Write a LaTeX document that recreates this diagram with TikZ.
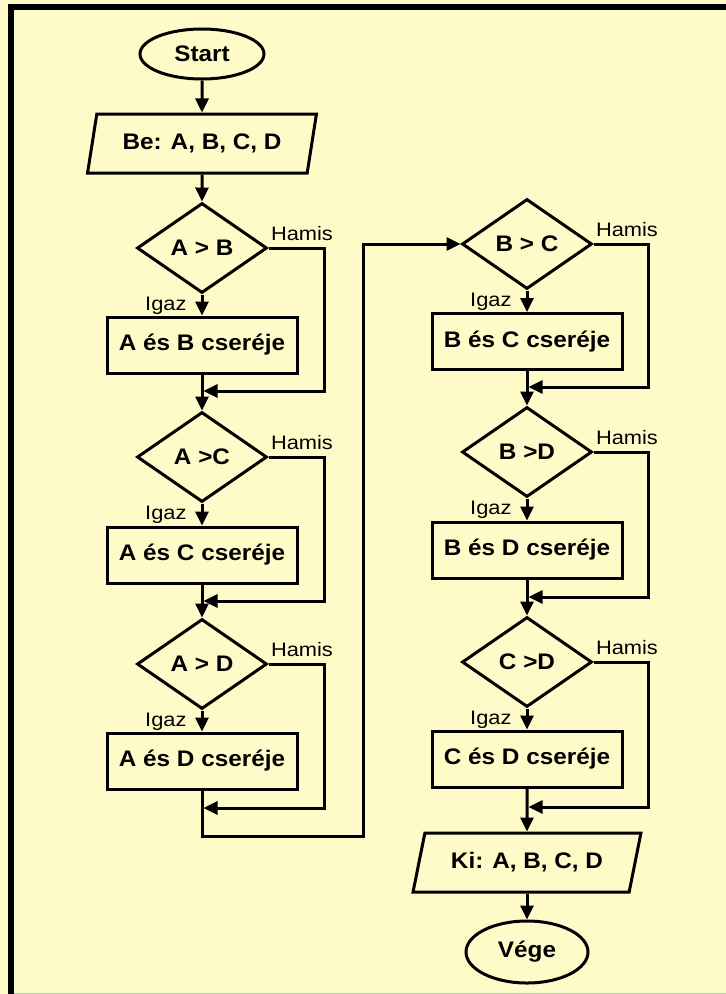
\documentclass[tikz,border=0pt]{standalone}
\usepackage{fontspec}
\setmainfont{Liberation Sans}
\newfontfamily\boldf[FakeStretch=1.08]{Liberation Sans}
\newfontfamily\lblf[FakeStretch=1.12]{Liberation Sans}
\usetikzlibrary{shapes.geometric,arrows.meta}
\definecolor{bg}{RGB}{255,251,200}
\begin{document}
\begin{tikzpicture}[x=1pt,y=-1pt,line width=3pt,
  >={Triangle[length=14pt,width=13pt]},
  bold/.style={font=\boldf\bfseries\fontsize{22.5}{24}\selectfont},
  term/.style={ellipse,draw,minimum width=124pt,minimum height=50pt,inner sep=0pt,bold},
  io/.style={trapezium,trapezium stretches,draw,minimum height=59pt,inner sep=0pt,bold},
  proc/.style={rectangle,draw,minimum width=190pt,minimum height=56pt,inner sep=0pt,bold},
  dec/.style={diamond,draw,minimum width=130pt,minimum height=90pt,inner sep=0pt,shape aspect=1.45,bold},
  lbl/.style={font=\lblf\fontsize{19.5}{21}\selectfont,inner sep=0pt},
  flow/.style={->}]
\useasboundingbox (0,0) rectangle (726,994);
\fill[bg] (0,0) rectangle (726,994);
\fill[black] (8,4) rectangle (14,994);
\fill[black] (8,4) rectangle (726,10);
\draw[black!25,line width=1pt] (14,993.5) -- (726,993.5);

% left column
\node[term] (start) at (202,54) {Start};
\node[io,minimum width=229pt,trapezium left angle=70,trapezium right angle=110] (be) at (202,143.5) {Be: A, B, C, D};
\node[dec] (d1) at (202,248) {A > B};
\node[proc] (b1) at (202,345) {A és B cseréje};
\node[dec] (d2) at (202,457) {A >C};
\node[proc] (b2) at (202,555) {A és C cseréje};
\node[dec] (d3) at (202,664) {A > D};
\node[proc] (b3) at (202,761) {A és D cseréje};

% right column
\node[dec] (d4) at (527,244) {B > C};
\node[proc] (b4) at (527,341.5) {B és C cseréje};
\node[dec] (d5) at (527,452) {B >D};
\node[proc] (b5) at (527,550) {B és D cseréje};
\node[dec] (d6) at (527,662) {C >D};
\node[proc] (b6) at (527,759) {C és D cseréje};
\node[io,minimum width=228pt,trapezium left angle=66,trapezium right angle=114] (ki) at (527,862.5) {Ki: A, B, C, D};
\node[term,minimum width=122pt,minimum height=62pt] (vege) at (527,952) {Vége};

% labels
\foreach \d in {d1,d2,d3,d4,d5,d6}{
  \node[lbl,anchor=base west] (h\d) at ([shift={(1,-8)}]\d.east) {Hamis};
  \node[lbl,anchor=base east] (i\d) at ([shift={(-14,16)}]\d.south) {Igaz};
}

% return coordinates
\coordinate (r1) at (324,391);
\coordinate (r2) at (324,601);
\coordinate (r3) at (324,808);
\coordinate (r4) at (648,387);
\coordinate (r5) at (648,597);
\coordinate (r6) at (648,807);
\coordinate (c1) at (363,836);

% main flow
\draw[flow] (start) -- (be);
\draw[flow] (be) -- (d1);
\draw[flow] (d1) -- (b1);
\draw[flow] (b1) -- (d2);
\draw[flow] (d2) -- (b2);
\draw[flow] (b2) -- (d3);
\draw[flow] (d3) -- (b3);
\draw[flow] (b3.south) |- (c1) |- (d4.west);
\draw[flow] (d4) -- (b4);
\draw[flow] (b4) -- (d5);
\draw[flow] (d5) -- (b5);
\draw[flow] (b5) -- (d6);
\draw[flow] (d6) -- (b6);
\draw[flow] (b6) -- (ki);
\draw[flow] (ki) -- (vege);

% false branches
\draw[flow,shorten >=1.5pt] (d1.east) -| (r1) -- (r1 -| b1.south);
\draw[flow,shorten >=1.5pt] (d2.east) -| (r2) -- (r2 -| b2.south);
\draw[flow,shorten >=1.5pt] (d3.east) -| (r3) -- (r3 -| b3.south);
\draw[flow,shorten >=1.5pt] (d4.east) -| (r4) -- (r4 -| b4.south);
\draw[flow,shorten >=1.5pt] (d5.east) -| (r5) -- (r5 -| b5.south);
\draw[flow,shorten >=1.5pt] (d6.east) -| (r6) -- (r6 -| b6.south);
\end{tikzpicture}
\end{document}
